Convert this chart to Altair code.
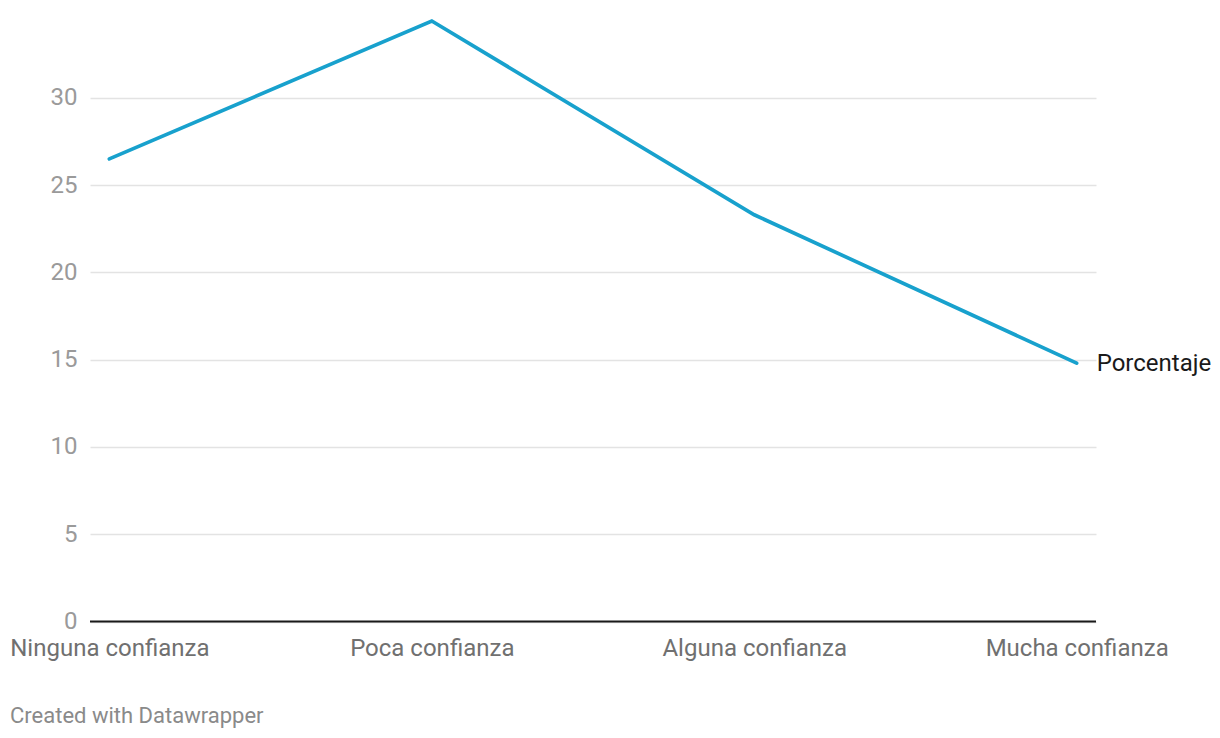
import altair as alt
import pandas as pd

categories = ["Ninguna confianza", "Poca confianza", "Alguna confianza", "Mucha confianza"]
values = [26.5, 34.4, 23.3, 14.8]
series_name = "Porcentaje"
y_ticks = [0, 5, 10, 15, 20, 25, 30]

df = pd.DataFrame({"cat": categories, "val": values, "serie": series_name})

FONT = "Roboto"

x_enc = alt.X("cat:N", sort=categories, title=None,
              scale=alt.Scale(type="point", padding=0.06),
              axis=alt.Axis(labelAngle=0, domain=False, ticks=False, grid=False,
                            labelFont=FONT, labelFontSize=24, labelColor="#707070",
                            labelPadding=15, labelLimit=0))
y_enc = alt.Y("val:Q", title=None,
              scale=alt.Scale(domain=[0, 34.4], nice=False, zero=True),
              axis=alt.Axis(values=y_ticks, domain=False, ticks=False, grid=True,
                            gridColor="#e3e3e3", gridWidth=1.5,
                            labelFont=FONT, labelFontSize=24, labelColor="#9a9a9a",
                            labelPadding=13))

line = alt.Chart(df).mark_line(color="#18a1cd", strokeWidth=3.7, strokeCap="round").encode(
    x=x_enc, y=y_enc)

baseline = alt.Chart(pd.DataFrame({"z": [0]})).mark_rule(color="#1a1a1a", strokeWidth=2).encode(
    y=alt.Y("z:Q", scale=alt.Scale(domain=[0, 34.4], nice=False)),
    x=alt.value(0), x2=alt.value(1006))

label = alt.Chart(df).transform_filter(
    alt.datum.cat == categories[-1]
).mark_text(align="left", baseline="middle", dx=20, dy=1, font=FONT, fontSize=24, color="#1a1a1a").encode(
    x=alt.X("cat:N", sort=categories), y=alt.Y("val:Q"), text="serie:N")

chart = alt.layer(line, baseline, label).properties(
    width=1006, height=600.5,
    background="white",
    autosize=alt.AutoSizeParams(type="none"),
    padding={"left": 90, "top": 21, "right": 124, "bottom": 116},
    title=alt.TitleParams("Created with Datawrapper", orient="bottom", anchor="start",
                          frame="group",
                          font=FONT, fontSize=22, fontWeight="normal", color="#8a8a8a",
                          dx=-80, offset=45),
).configure_view(stroke=None)

chart.save("out.html", embed_options={"renderer": "svg", "actions": False})
